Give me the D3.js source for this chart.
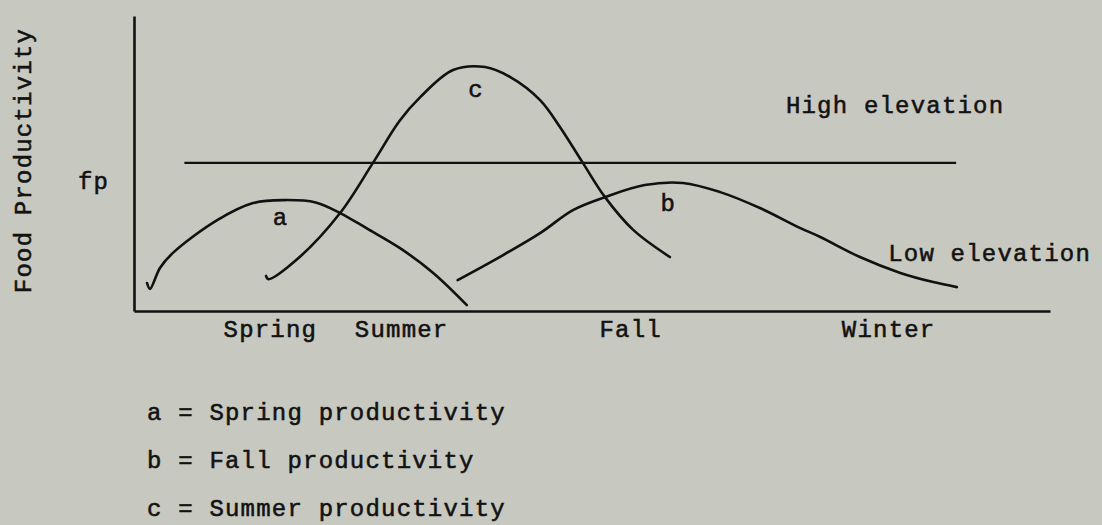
<!DOCTYPE html>
<html>
<head>
<meta charset="utf-8">
<script src="https://cdn.jsdelivr.net/npm/d3@7"></script>
<style>
  html, body { margin: 0; padding: 0; background: #c7c8c0; }
  svg text { font-family: "Liberation Mono", monospace; font-size: 24px; letter-spacing: 1.2px; fill: #121212; stroke: #121212; stroke-width: 0.55px; }
</style>
</head>
<body>
<div id="chart"></div>
<script>
// x in months from start of spring, y in arbitrary productivity units
const seasons = ['Spring', 'Summer', 'Fall', 'Winter'];
const seasonPos = [1.78, 3.50, 6.50, 9.88];

const springA = [
  [0.17, 0.95], [0.21, 0.75], [0.34, 1.46], [0.51, 1.97], [1.09, 3.08], [1.56, 3.66],
  [1.97, 3.76], [2.38, 3.68], [2.70, 3.32], [3.05, 2.80], [3.48, 2.14], [3.92, 1.29], [4.36, 0.20]
];
const summerC = [
  [1.73, 1.19], [1.76, 1.08], [2.17, 1.83], [2.70, 3.32], [3.13, 5.02], [3.48, 6.45],
  [3.75, 7.25], [4.18, 8.17], [4.60, 8.27], [4.93, 7.93], [5.32, 7.15], [5.58, 6.24],
  [5.88, 5.02], [6.17, 3.86], [6.54, 2.75], [7.02, 1.83]
];
const fallB = [
  [4.24, 1.05], [4.79, 1.83], [5.32, 2.64], [5.75, 3.42], [6.17, 3.86], [6.69, 4.27],
  [7.19, 4.34], [7.68, 4.03], [8.20, 3.49], [8.73, 2.81], [8.99, 2.51], [9.51, 1.83],
  [10.04, 1.29], [10.47, 0.98], [10.78, 0.81]
];
const fpLevel = 5.02;
const fpSpan = [0.66, 10.77];

const curveLabels = [
  { t: 'a', x: 1.92, y: 2.92 },
  { t: 'c', x: 4.48, y: 7.25 },
  { t: 'b', x: 7.00, y: 3.38 }
];
const elevLabels = [
  { t: 'High elevation', x: 8.54, y: 6.7 },
  { t: 'Low elevation', x: 9.88, y: 1.69 }
];
const legend = ['a = Spring productivity', 'b = Fall productivity', 'c = Summer productivity'];

const W = 1102, H = 525;
const svg = d3.select('#chart').append('svg').attr('width', W).attr('height', H);

const x = d3.scaleLinear().domain([0, 12]).range([134, 1050]);
const y = d3.scaleLinear().domain([0, 10]).range([311, 16]);

// axes (no ticks, season names under x axis)
const xAxis = svg.append('g')
  .attr('transform', 'translate(0,' + y(0) + ')')
  .call(d3.axisBottom(x).tickValues(seasonPos).tickFormat((d, i) => seasons[i])
    .tickSize(0).tickSizeOuter(0).tickPadding(9));
const yAxis = svg.append('g')
  .attr('transform', 'translate(' + x(0) + ',0)')
  .call(d3.axisLeft(y).tickValues([]).tickSizeOuter(0));
[xAxis, yAxis].forEach(g => {
  g.select('.domain').attr('stroke', '#111').attr('stroke-width', 2.6);
  g.selectAll('text').attr('font-family', null).attr('font-size', null).attr('fill', null);
});

// fp line
svg.append('line')
  .attr('x1', x(fpSpan[0])).attr('x2', x(fpSpan[1]))
  .attr('y1', y(fpLevel)).attr('y2', y(fpLevel))
  .attr('stroke', '#111').attr('stroke-width', 2.4);

const line = d3.line().x(d => x(d[0])).y(d => y(d[1])).curve(d3.curveCatmullRom.alpha(0.5));
[springA, summerC, fallB].forEach(s => {
  svg.append('path').datum(s).attr('d', line)
    .attr('fill', 'none').attr('stroke', '#111').attr('stroke-width', 2.6)
    .attr('stroke-linecap', 'round').attr('stroke-linejoin', 'round');
});

svg.selectAll('.clabel').data(curveLabels).enter().append('text')
  .attr('x', d => x(d.x)).attr('y', d => y(d.y)).attr('text-anchor', 'middle').text(d => d.t);

svg.selectAll('.elabel').data(elevLabels).enter().append('text')
  .attr('x', d => x(d.x)).attr('y', d => y(d.y)).text(d => d.t);

svg.append('text').attr('x', 78).attr('y', y(4.12)).text('fp');

svg.append('text')
  .attr('transform', 'translate(31,' + y(5.1) + ') rotate(-90)')
  .attr('text-anchor', 'middle').text('Food Productivity');

svg.selectAll('.legend').data(legend).enter().append('text')
  .attr('x', 147).attr('y', (d, i) => 420 + i * 48).text(d => d);
</script>
</body>
</html>
